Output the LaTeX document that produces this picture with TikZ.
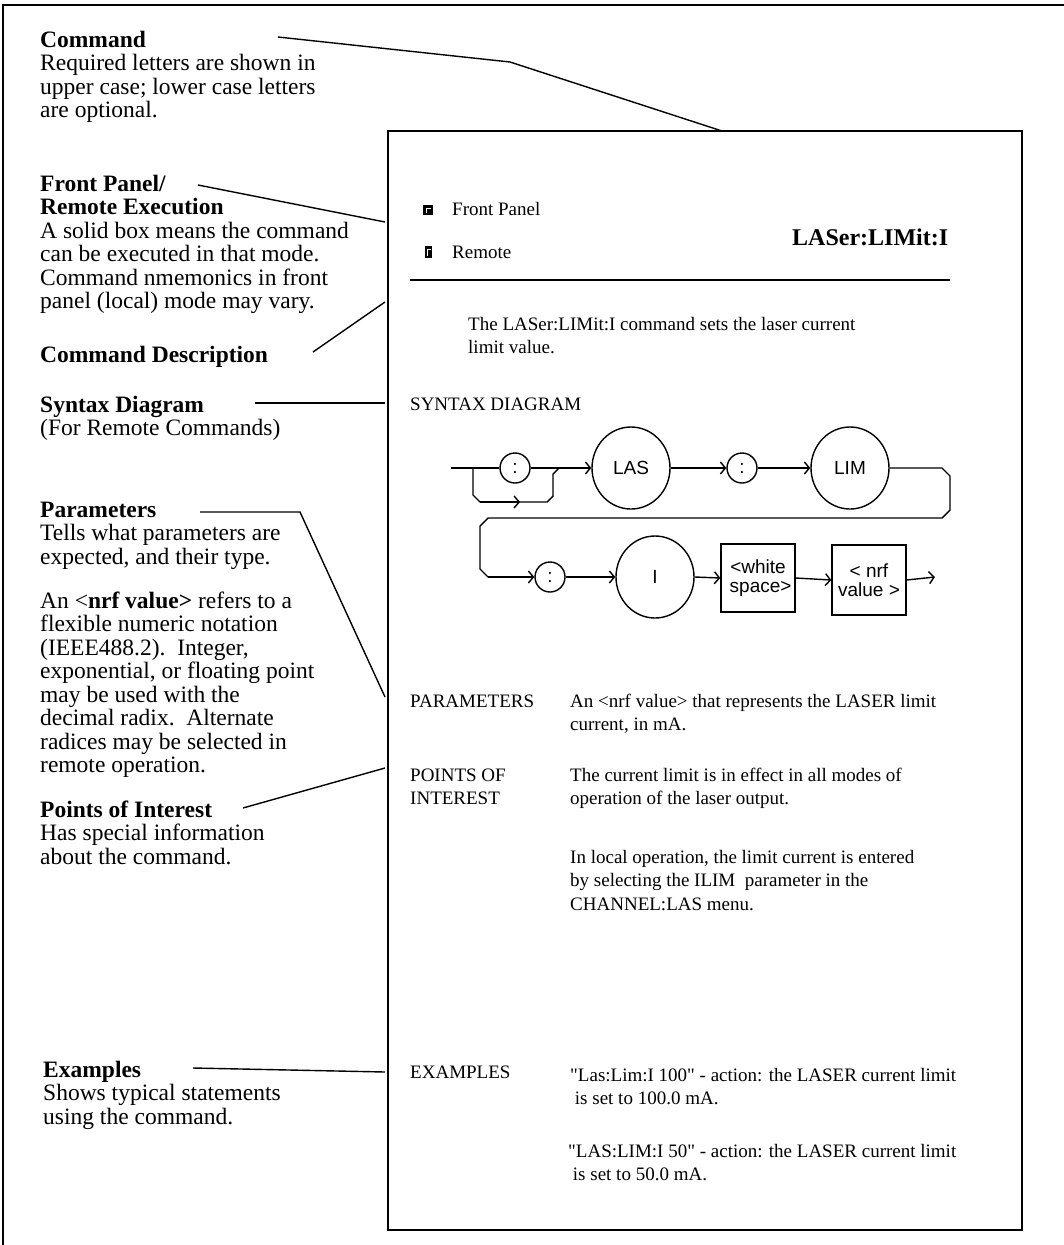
\documentclass[tikz,border=0pt]{standalone}
\usepackage{fontspec}
\setmainfont{Liberation Serif}[Ligatures=TeXOff]
\newfontfamily\arialf{Liberation Sans}
\usetikzlibrary{arrows.meta,shapes.geometric}
\newcommand\plines[2]{\parbox[t]{#1}{\raggedright #2}}
\tikzset{
  lt/.style={anchor=base west, inner sep=0pt, font=\fontsize{23.5}{23.5}\selectfont},
  rt/.style={anchor=base west, inner sep=0pt, font=\fontsize{19}{23.5}\selectfont},
  callout/.style={line width=1.4pt},
  frameline/.style={line width=2pt},
  syn/.style={line width=1.4pt},
  synarr/.style={syn, -{Straight Barb[length=5pt,width=12pt,line width=1.4pt]}},
  smallc/.style={ellipse, draw, line width=1.4pt, minimum width=30pt, minimum height=30pt, inner sep=0pt, font=\arialf\fontsize{19}{20}\selectfont},
  bigc/.style={ellipse, draw, line width=1.4pt, minimum width=78pt, minimum height=82pt, inner sep=0pt, font=\arialf\fontsize{19}{20}\selectfont},
  synbox/.style={rectangle, draw, line width=1.4pt, minimum width=74pt, minimum height=68pt, inner sep=0pt, align=center, font=\arialf\fontsize{19}{19}\selectfont},
}
\begin{document}
\begin{tikzpicture}[x=1pt,y=-1pt]
\useasboundingbox (0,0) rectangle (1064,1245);
% outer frame
\draw[frameline] (3,1245) -- (3,5) -- (1064,5);
% inner panel
\draw[line width=1.8pt] (388,131) rectangle (1022,1230);

% left column
\node[lt] (cmd) at (40,47) {\plines{340pt}{\textbf{Command}\\Required letters are shown in\\upper case; lower case letters\\are optional.}};
\node[lt] (fp) at (40,191) {\plines{340pt}{\textbf{Front Panel/}\\\textbf{Remote Execution}\\A solid box means the command\\can be executed in that mode.\\Command nmemonics in front\\panel (local) mode may vary.}};
\node[lt] (cd) at (40,362) {\textbf{Command Description}};
\node[lt] (sd) at (40,412) {\plines{340pt}{\textbf{Syntax Diagram}\\(For Remote Commands)}};
\node[lt] (par) at (40,517) {\plines{340pt}{\textbf{Parameters}\\Tells what parameters are\\expected, and their type.}};
\node[lt] (nrf) at (40,608) {\plines{340pt}{An <\textbf{nrf value>} refers to a\\flexible numeric notation\\(IEEE488.2).\ \ Integer,\\exponential, or floating point\\may be used with the\\decimal radix.\ \ Alternate\\radices may be selected in\\remote operation.}};
\node[lt] (poi) at (40,817) {\plines{340pt}{\textbf{Points of Interest}\\Has special information\\about the command.}};
\node[lt] (ex) at (43,1077) {\plines{340pt}{\textbf{Examples}\\Shows typical statements\\using the command.}};

% callout lines
\coordinate (c1a) at (278,37);
\coordinate (c1b) at (510,62);
\coordinate (c1c) at (722,131);
\draw[callout] (c1a) -- (c1b) -- (c1c);
\coordinate (c2a) at (198,185);
\coordinate (c2b) at (385,222);
\draw[callout] (c2a) -- (c2b);
\coordinate (c3a) at (313,352);
\coordinate (c3b) at (385,302);
\draw[callout] (c3a) -- (c3b);
\coordinate (c4a) at (255,403);
\coordinate (c4b) at (385,403);
\draw[callout] (c4a) -- (c4b);
\coordinate (c5a) at (200,512);
\coordinate (c5b) at (300,512);
\coordinate (c5c) at (385,697);
\draw[callout] (c5a) -- (c5b) -- (c5c);
\coordinate (c6a) at (243,808);
\coordinate (c6b) at (385,768);
\draw[callout] (c6a) -- (c6b);
\coordinate (c7a) at (193,1068);
\coordinate (c7b) at (385,1072);
\draw[callout] (c7a) -- (c7b);

% header of panel
\fill (423,205) rectangle (433,215);
\draw[white, line width=1pt] (426,213) -- (426,208) -- (431,208);
\node[rt] (fptxt) at (452,215) {Front Panel};
\fill (425,246) rectangle (432,258);
\draw[white, line width=1pt] (427.5,256) -- (427.5,249) -- (430.5,249);
\node[rt] (rmtxt) at (452,258) {Remote};
\node[anchor=base west, inner sep=0pt, font=\fontsize{24}{24}\selectfont\bfseries] (title) at (792,245) {LASer:LIMit:I};
\coordinate (rulea) at (410,280);
\coordinate (ruleb) at (950,280);
\draw[line width=1.6pt] (rulea) -- (ruleb);

\node[rt] (desc) at (468,330) {\plines{420pt}{The LASer:LIMit:I command sets the laser current\\limit value.}};
\node[rt] (sdlabel) at (410,410) {SYNTAX DIAGRAM};

% syntax diagram
\coordinate (s0) at (451,468);
\node[smallc] (k1) at (515,468) {:};
\node[bigc] (las) at (631,468) {LAS};
\node[smallc] (k2) at (742,468) {:};
\node[bigc] (lim) at (850,468) {LIM};
\node[smallc] (k3) at (550,577) {:};
\node[bigc] (ii) at (655,577) {I};
\node[synbox] (ws) at (758,578) {<white\\\ space>};
\node[synbox, minimum height=70pt] (nv) at (869,580) {< nrf\\value >};
\coordinate (endp) at (935,577);

\draw[syn] (s0) -- (k1.west);
\draw[synarr] (k1.east) -- (las.west);
\coordinate (bpa) at (473,468);
\coordinate (bpb) at (473,495);
\coordinate (bpc) at (480,502);
\coordinate (bpm) at (520,502);
\coordinate (bpd) at (547,502);
\coordinate (bpe) at (553,496);
\coordinate (bpf) at (553,474);
\coordinate (bpg) at (559,468);
\draw[syn] (bpa) -- (bpb) -- (bpc) -- (bpd) -- (bpe) -- (bpf) -- (bpg);
\draw[synarr] (bpc) -- (bpm);
\draw[synarr] (las.east) -- (k2.west);
\draw[synarr] (k2.east) -- (lim.west);
\coordinate (r1) at (942,468);
\coordinate (r2) at (950,476);
\coordinate (r3) at (950,510);
\coordinate (r4) at (942,518);
\coordinate (r5) at (488,518);
\coordinate (r6) at (480,526);
\coordinate (r7) at (480,569);
\coordinate (r8) at (488,577);
\draw[syn] (lim.east) -- (r1) -- (r2) -- (r3) -- (r4) -- (r5) -- (r6) -- (r7) -- (r8);
\draw[synarr] (r8) -- (k3.west);
\draw[synarr] (k3.east) -- (ii.west);
\draw[synarr] (ii.east) -- (ws.west);
\draw[synarr] (ws.east) -- (nv.west);
\draw[synarr] (nv.east) -- (endp);

% sections
\node[rt] (plabel) at (410,707) {PARAMETERS};
\node[rt] (ptext) at (570,707) {\plines{440pt}{An <nrf value> that represents the LASER limit\\current, in mA.}};
\node[rt] (poilabel) at (410,781) {\plines{150pt}{POINTS OF\\INTEREST}};
\node[rt] (poitext) at (570,781) {\plines{440pt}{The current limit is in effect in all modes of\\operation of the laser output.}};
\node[rt] (poitext2) at (570,863) {\plines{440pt}{In local operation, the limit current is entered\\by selecting the ILIM\ \ parameter in the\\CHANNEL:LAS menu.}};
\node[rt] (exlabel) at (410,1078) {EXAMPLES};
\node[rt] (ex1) at (570,1081) {\plines{440pt}{"Las:Lim:I 100" - action: the LASER current limit\\\ is set to 100.0 mA.}};
\node[rt] (ex2) at (568,1157) {\plines{440pt}{"LAS:LIM:I 50" - action: the LASER current limit\\\ is set to 50.0 mA.}};
\end{tikzpicture}
\end{document}
